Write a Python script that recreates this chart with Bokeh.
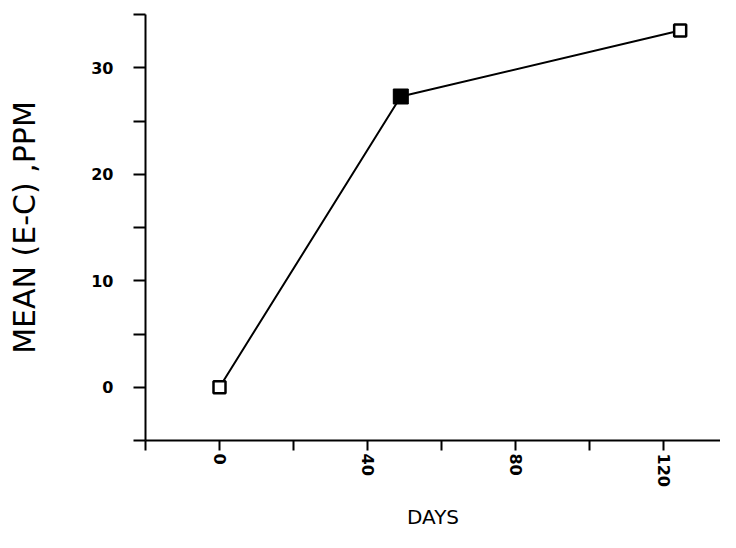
import math
from bokeh.plotting import figure
from bokeh.models import FixedTicker, Range1d
from bokeh.embed import file_html
from bokeh.resources import INLINE

# ---- data ----
days = [0, 49, 124.5]
mean_ppm = [0.0, 27.3, 33.5]
x_ticks = [-20, 0, 20, 40, 60, 80, 100, 120, 140]
x_tick_labels = {0: "0", 40: "40", 80: "80", 120: "120"}
y_ticks = [-5, 0, 5, 10, 15, 20, 25, 30, 35]
y_tick_labels = {0: "0", 10: "10", 20: "20", 30: "30"}
x_label = "DAYS"
y_label = "MEAN (E-C) ,PPM"

p = figure(width=720, height=532, output_backend="svg", toolbar_location=None,
           x_range=Range1d(-20, 135.4), y_range=Range1d(-5, 35),
           min_border_left=145, min_border_right=0, min_border_top=14,
           min_border_bottom=92)
p.outline_line_color = None
p.grid.visible = False
p.background_fill_color = "white"
p.border_fill_color = "white"

xa = p.xaxis[0]
xa.ticker = FixedTicker(ticks=x_ticks)
xa.major_label_overrides = {t: x_tick_labels.get(t, "") for t in x_ticks}
xa.minor_tick_line_color = None
xa.major_tick_in = 0
xa.major_tick_out = 10
xa.axis_line_width = 2
xa.major_tick_line_width = 2
xa.major_label_orientation = -math.pi / 2
xa.major_label_standoff = 3
xa.major_label_text_font = "DejaVu Sans"
xa.major_label_text_font_style = "bold"
xa.major_label_text_font_size = "16px"
xa.major_label_text_color = "black"
xa.axis_label = x_label
xa.axis_label_text_font = "DejaVu Sans"
xa.axis_label_text_font_style = "normal"
xa.axis_label_text_font_size = "20px"
xa.axis_label_text_color = "black"
xa.axis_label_standoff = 15

ya = p.yaxis[0]
ya.ticker = FixedTicker(ticks=y_ticks)
ya.major_label_overrides = {t: y_tick_labels.get(t, "") for t in y_ticks}
ya.minor_tick_line_color = None
ya.major_tick_in = 0
ya.major_tick_out = 12
ya.axis_line_width = 2
ya.major_tick_line_width = 2
ya.major_label_standoff = 20
ya.major_label_text_font = "DejaVu Sans"
ya.major_label_text_font_style = "bold"
ya.major_label_text_font_size = "16px"
ya.major_label_text_color = "black"
ya.axis_label = y_label
ya.axis_label_text_font = "DejaVu Sans"
ya.axis_label_text_font_style = "normal"
ya.axis_label_text_font_size = "30px"
ya.axis_label_text_color = "black"
ya.axis_label_standoff = 46

p.line(days, mean_ppm, line_color="black", line_width=2)
p.scatter(days, mean_ppm, marker="square", size=12, fill_color="white",
          line_color="black", line_width=2.5)
p.scatter(days[1:2], mean_ppm[1:2], marker="square", size=15,
          fill_color="black", line_color="black")

open("out.html", "w").write(file_html(p, INLINE))
